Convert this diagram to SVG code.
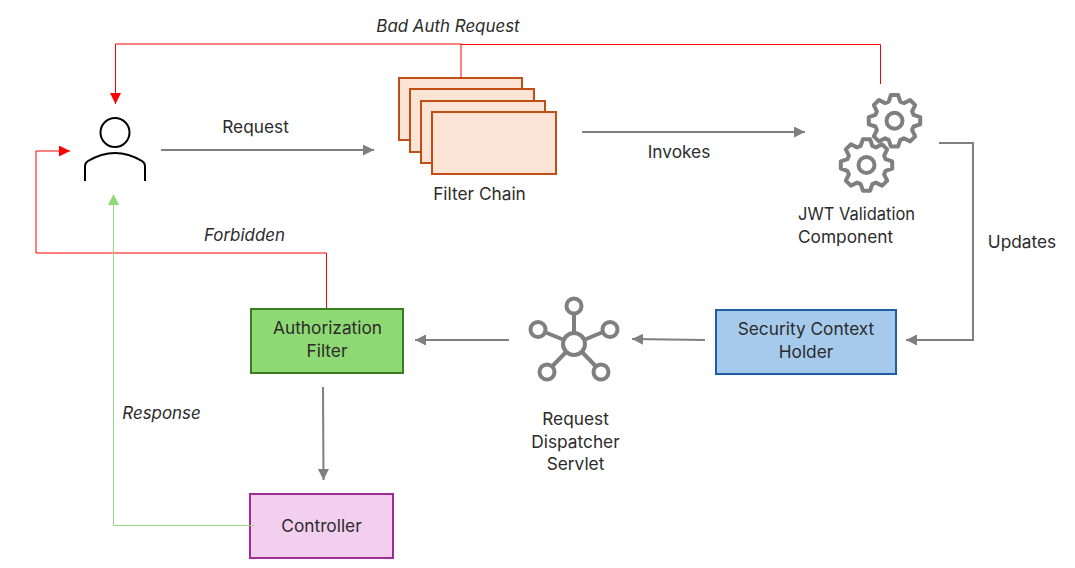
<svg xmlns="http://www.w3.org/2000/svg" width="1075" height="568" viewBox="0 0 1075 568">
<style>
text{font-family:"Inter","Noto Sans","Liberation Sans",sans-serif;font-size:17.300px;fill:#2b2b2b;text-anchor:middle}
.it{font-style:italic;font-size:16.900px}
.st{text-anchor:start}
.c{fill:none;stroke:#7f7f7f;stroke-width:2}
.r{fill:none;stroke:#f00;stroke-width:1}
.g{fill:none;stroke:#9bd389;stroke-width:1}
.gi{fill:none;stroke:#7f7f7f;stroke-width:4;stroke-linejoin:round}
.f{fill:#fbe3d6;stroke:#c04f15;stroke-width:2}
</style>
<defs>
<marker id="ag" markerUnits="userSpaceOnUse" markerWidth="12" markerHeight="12" refX="11" refY="5.500" orient="auto"><path d="M0 0L11 5.500L0 11z" fill="#7f7f7f"/></marker>
<marker id="ar" markerUnits="userSpaceOnUse" markerWidth="12" markerHeight="12" refX="11" refY="5.500" orient="auto"><path d="M0 0L11 5.500L0 11z" fill="#f00"/></marker>
<marker id="al" markerUnits="userSpaceOnUse" markerWidth="12" markerHeight="12" refX="11" refY="5.500" orient="auto"><path d="M0 0L11 5.500L0 11z" fill="#8ed973"/></marker>
<path id="gear" d="M19.100-5.800L25.700-3.600V3.600L19.100 5.800L17.600 9.400L20.700 15.600L15.600 20.700L9.400 17.600L5.800 19.100L3.600 25.700H-3.600L-5.800 19.100L-9.400 17.600L-15.600 20.700L-20.700 15.600L-17.600 9.400L-19.100 5.800L-25.700 3.600V-3.600L-19.100-5.800L-17.600-9.400L-20.700-15.600L-15.600-20.700L-9.400-17.600L-5.800-19.100L-3.600-25.700H3.600L5.800-19.100L9.400-17.600L15.600-20.700L20.700-15.600L17.600-9.400Z"/>
</defs>
<g id="user" fill="none" stroke="#000" stroke-width="2">
<circle cx="115" cy="132.500" r="14.500"/>
<path d="M85 181V166Q85 163 88 161Q115 145 142 161Q145 163 145 166V181"/>
</g>
<g id="filter-chain">
<rect class="f" x="399" y="78" width="123" height="62"/>
<rect class="f" x="410" y="89" width="124" height="63"/>
<rect class="f" x="421" y="101" width="124" height="62"/>
<rect class="f" x="432" y="112" width="124" height="62"/>
<text x="479.500" y="199.500">Filter Chain</text>
</g>
<g id="jwt">
<use href="#gear" x="894.500" y="120.700" class="gi"/>
<circle class="gi" cx="894.500" cy="120.700" r="8"/>
<use href="#gear" x="866.500" y="165" class="gi"/>
<circle class="gi" cx="866.500" cy="165" r="8"/>
<text class="st" x="798" y="219.500" textLength="117" lengthAdjust="spacingAndGlyphs">JWT Validation</text>
<text class="st" x="798" y="242.500">Component</text>
</g>
<g id="security">
<rect x="716" y="310" width="180" height="64" fill="#a6caec" stroke="#1f5f9f" stroke-width="2"/>
<text x="806" y="334.500">Security Context</text>
<text x="806" y="357.500">Holder</text>
</g>
<g id="dispatcher">
<path class="gi" d="M574 313.500V332M544.500 332L563 339.500M603 332L585 339.500M552.500 366L566 352M595.500 366L582 352"/>
<circle class="gi" cx="574" cy="344" r="11"/>
<circle class="gi" cx="574" cy="306" r="7.500"/>
<circle class="gi" cx="538" cy="329.500" r="7.500"/>
<circle class="gi" cx="610" cy="329.500" r="7.500"/>
<circle class="gi" cx="547" cy="372" r="7.500"/>
<circle class="gi" cx="601" cy="372" r="7.500"/>
<text x="575.500" y="424.500">Request</text>
<text x="575.500" y="447.500">Dispatcher</text>
<text x="575.500" y="469.500">Servlet</text>
</g>
<g id="authorization">
<rect x="251" y="309" width="152" height="64" fill="#8ed973" stroke="#3a7c22" stroke-width="2"/>
<text x="327.500" y="333.500">Authorization</text>
<text x="327" y="356.500">Filter</text>
</g>
<g id="controller">
<rect x="250" y="494" width="143" height="64" fill="#f2ceef" stroke="#a02b93" stroke-width="2"/>
<text x="321.500" y="531.500">Controller</text>
</g>
<g id="connectors">
<path class="r" d="M880.500 84V44.500H461"/>
<path class="r" d="M461 78V44H115.500V104" marker-end="url(#ar)"/>
<path class="r" d="M326.500 308V253H36V151H70" marker-end="url(#ar)"/>
<path class="g" d="M254 525.500H113.500V205"/>
<path d="M113.500 205V194" fill="none" marker-end="url(#al)"/>
<path class="c" d="M161 150H374" marker-end="url(#ag)"/>
<path class="c" d="M582 132H805" marker-end="url(#ag)"/>
<path class="c" d="M939 143H973V340H906" marker-end="url(#ag)"/>
<path class="c" d="M705 340L632 339" marker-end="url(#ag)"/>
<path class="c" d="M509 340H415" marker-end="url(#ag)"/>
<path class="c" d="M323 387L323.500 480" marker-end="url(#ag)"/>
</g>
<g id="labels">
<text class="it" x="448" y="31.500">Bad Auth Request</text>
<text x="255.500" y="132.500">Request</text>
<text x="679" y="157.500">Invokes</text>
<text x="1022" y="247.500">Updates</text>
<text class="it" x="244.500" y="240.500">Forbidden</text>
<text class="it" x="161.500" y="418.500">Response</text>
</g>
</svg>
